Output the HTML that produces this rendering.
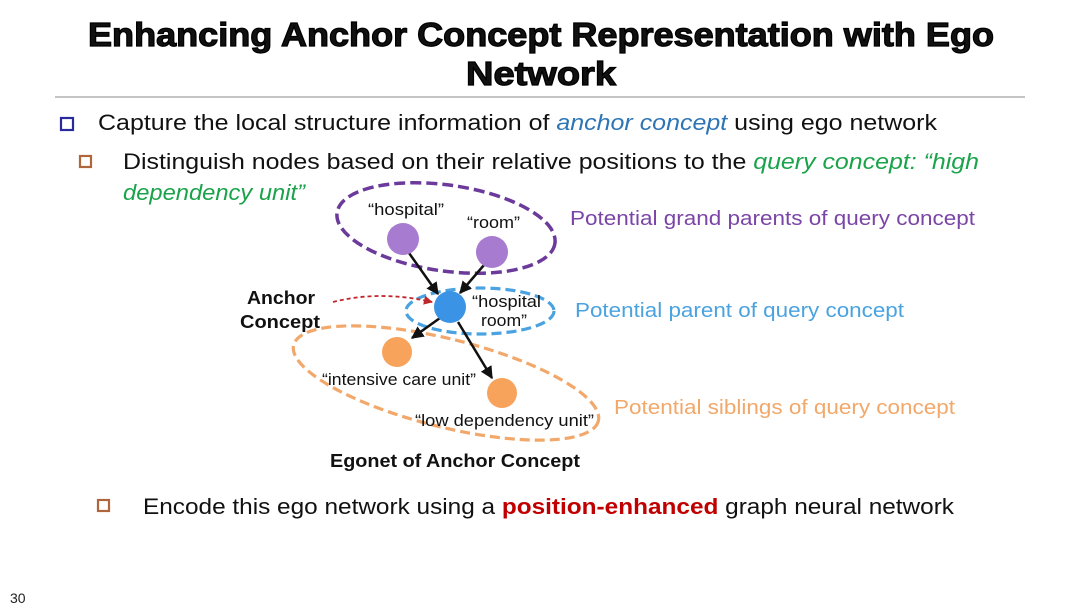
<!DOCTYPE html>
<html><head><meta charset="utf-8"><style>html,body{margin:0;padding:0;background:#fff}svg{display:block}</style></head>
<body>
<svg width="1080" height="608" viewBox="0 0 1080 608" xmlns="http://www.w3.org/2000/svg" font-family="Liberation Sans, sans-serif">
<defs>
<marker id="ah" viewBox="0 0 10 10" refX="9" refY="5" markerWidth="5" markerHeight="5" orient="auto"><path d="M0,0L10,5L0,10z" fill="#111"/></marker>
<marker id="ar" viewBox="0 0 10 10" refX="9" refY="5" markerWidth="5" markerHeight="5" orient="auto"><path d="M0,0L10,5L0,10z" fill="#c0272d"/></marker>
</defs>
<g font-weight="bold" font-size="33" fill="#111" stroke="#000" stroke-width="1.2" text-anchor="middle">
<text x="541" y="46" textLength="906" lengthAdjust="spacingAndGlyphs">Enhancing Anchor Concept Representation with Ego</text>
<text x="541" y="85" textLength="150" lengthAdjust="spacingAndGlyphs">Network</text>
</g>
<line x1="55" y1="97" x2="1025" y2="97" stroke="#888" stroke-width="1"/>
<rect x="61" y="118" width="12" height="12" fill="#fff" stroke="#2a2a9a" stroke-width="2.2"/>
<rect x="80" y="156" width="11" height="11" fill="#fff" stroke="#b0653a" stroke-width="2.2"/>
<rect x="98" y="500" width="11" height="11" fill="#fff" stroke="#b0653a" stroke-width="2.2"/>
<g font-size="22" fill="#111">
<text x="98" y="130" textLength="839" lengthAdjust="spacingAndGlyphs">Capture the local structure information of <tspan fill="#2e75b6" font-style="italic">anchor concept</tspan> using ego network</text>
<text x="123" y="169" textLength="856" lengthAdjust="spacingAndGlyphs">Distinguish nodes based on their relative positions to the <tspan fill="#1aa34a" font-style="italic">query concept: “high</tspan></text>
<text x="123" y="200" fill="#1aa34a" font-style="italic" textLength="182" lengthAdjust="spacingAndGlyphs">dependency unit”</text>
<text x="143" y="514" textLength="811" lengthAdjust="spacingAndGlyphs">Encode this ego network using a <tspan fill="#c00000" font-weight="bold">position-enhanced</tspan> graph neural network</text>
</g>
<text x="10" y="603" font-size="14" fill="#222">30</text>
<ellipse cx="446" cy="228" rx="110" ry="43" transform="rotate(8 446 228)" fill="none" stroke="#6b3a9a" stroke-width="3.5" stroke-dasharray="11,5"/>
<ellipse cx="480" cy="311" rx="74" ry="23" fill="none" stroke="#4aa3e0" stroke-width="3.2" stroke-dasharray="10,5"/>
<ellipse cx="446" cy="383" rx="157" ry="44" transform="rotate(14 446 383)" fill="none" stroke="#f2a86a" stroke-width="3.2" stroke-dasharray="10,5"/>
<line x1="409" y1="253" x2="438" y2="294" stroke="#111" stroke-width="2.5" marker-end="url(#ah)"/>
<line x1="484" y1="265" x2="460" y2="293" stroke="#111" stroke-width="2.5" marker-end="url(#ah)"/>
<line x1="440" y1="318" x2="412" y2="338" stroke="#111" stroke-width="2.5" marker-end="url(#ah)"/>
<line x1="458" y1="322" x2="492" y2="378" stroke="#111" stroke-width="2.5" marker-end="url(#ah)"/>
<path d="M333,302 Q380,290 432,302" fill="none" stroke="#c0272d" stroke-width="1.8" stroke-dasharray="4,3" marker-end="url(#ar)"/>
<circle cx="403" cy="239" r="16" fill="#a77bd0"/>
<circle cx="492" cy="252" r="16" fill="#a77bd0"/>
<circle cx="450" cy="307" r="16" fill="#3b93e6"/>
<circle cx="397" cy="352" r="15" fill="#f7a35c"/>
<circle cx="502" cy="393" r="15" fill="#f7a35c"/>
<g font-size="16.5" fill="#111">
<text x="368" y="215" textLength="76" lengthAdjust="spacingAndGlyphs">“hospital”</text>
<text x="467" y="228" textLength="53" lengthAdjust="spacingAndGlyphs">“room”</text>
<text x="472" y="307" textLength="69" lengthAdjust="spacingAndGlyphs">“hospital</text>
<text x="481" y="326" textLength="46" lengthAdjust="spacingAndGlyphs">room”</text>
<text x="322" y="385" textLength="154" lengthAdjust="spacingAndGlyphs">“intensive care unit”</text>
<text x="415" y="426" textLength="179" lengthAdjust="spacingAndGlyphs">“low dependency unit”</text>
</g>
<g font-size="18" font-weight="bold" fill="#111">
<text x="247" y="304" textLength="68" lengthAdjust="spacingAndGlyphs">Anchor</text>
<text x="240" y="328" textLength="80" lengthAdjust="spacingAndGlyphs">Concept</text>
<text x="330" y="467" textLength="250" lengthAdjust="spacingAndGlyphs">Egonet of Anchor Concept</text>
</g>
<g font-size="20">
<text x="570" y="225" fill="#7b45a8" textLength="405" lengthAdjust="spacingAndGlyphs">Potential grand parents of query concept</text>
<text x="575" y="317" fill="#4aa3e0" textLength="329" lengthAdjust="spacingAndGlyphs">Potential parent of query concept</text>
<text x="614" y="414" fill="#f2a86a" textLength="341" lengthAdjust="spacingAndGlyphs">Potential siblings of query concept</text>
</g>
</svg>
</body></html>
